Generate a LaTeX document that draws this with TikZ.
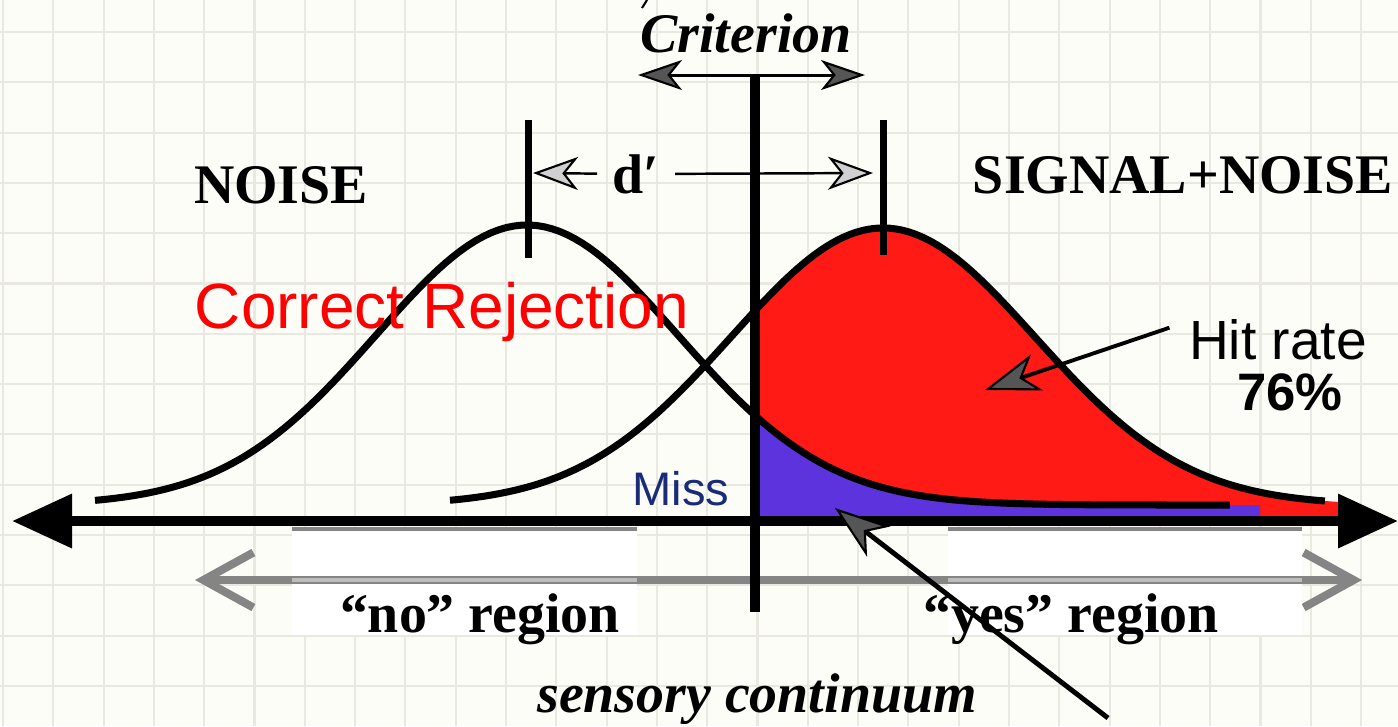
\documentclass[tikz,border=0pt]{standalone}
\usepackage{fontspec}
\setmainfont{Liberation Serif}
\setsansfont{Liberation Sans}
\usetikzlibrary{arrows.meta}
\begin{document}
\begin{tikzpicture}[
  every node/.style={inner sep=0pt, anchor=base},
  tnr/.style={font=\fontsize{15.9}{18}\selectfont\bfseries},
  tnri/.style={font=\fontsize{15.9}{18}\selectfont\bfseries\itshape},
  arial/.style={font=\sffamily\fontsize{#1}{#1}\selectfont},
  curve/.style={line width=2pt, line join=round},
  pointer/.style={line width=#1, -{Stealth[length=5.5mm, width=3.8mm, inset=1.6mm, fill=headgray, line width=0.6pt]}},
  declare function={noise(\x)=-5.05+2.80*exp(-((\x-5.27)^2)/4.56);
                    signal(\x)=-5.05+2.77*exp(-((\x-8.83)^2)/4.62);}
]
  % Signal detection: two distributions and a criterion
  \definecolor{paper}{HTML}{FDFDF8}
  \definecolor{gridline}{HTML}{E9E9E2}
  \definecolor{hit}{HTML}{FF1A16}
  \definecolor{falsealarm}{HTML}{5C33DD}
  \definecolor{missblue}{HTML}{182C78}
  \definecolor{regiongray}{HTML}{858585}
  \definecolor{headgray}{HTML}{555555}
  \definecolor{lightgray}{HTML}{D0D0D0}
  \definecolor{fadedgray}{HTML}{BDBDBD}
  \useasboundingbox (0,0) rectangle (13.98,-7.26);
  \fill[paper] (0,0) rectangle (13.98,-7.26);
  \foreach \gx in {0.03,0.533,...,13.98} \draw[gridline, line width=0.6pt] (\gx,0) -- (\gx,-7.26);
  \foreach \gy in {-0.32,-0.823,...,-7.26} \draw[gridline, line width=0.6pt] (0,\gy) -- (13.98,\gy);

  \fill[hit] (7.55,-5.16) -- plot[domain=7.55:13.4, samples=100] (\x,{signal(\x)}) -- (13.4,-5.16) -- cycle;
  \fill[falsealarm] (7.55,-5.16) -- plot[domain=7.55:12.6, samples=100] (\x,{noise(\x)}) -- (12.6,-5.16) -- cycle;
  \draw[curve] plot[domain=0.95:12.3, samples=150] (\x,{noise(\x)});
  \draw[curve] plot[domain=4.5:13.25, samples=150] (\x,{signal(\x)});

  % response regions
  \coordinate (regL) at (1.95,-5.80);
  \coordinate (regR) at (13.62,-5.80);
  \draw[regiongray, line width=2.3pt, {Straight Barb[length=5mm, width=5.5mm]}-{Straight Barb[length=5mm, width=5.5mm]}] (regL) -- (regR);
  \foreach \bx/\ex in {2.92/6.37, 9.48/13.02} {
    \fill[white] (\bx,-5.28) rectangle (\ex,-6.35);
    \draw[regiongray, line width=1.2pt] (\bx,-5.29) -- (\ex,-5.29);
    \draw[regiongray, line width=2.3pt] (\bx,-5.80) -- (\ex,-5.80);
    \draw[fadedgray, line width=1.2pt] (\bx,-5.80) -- (\ex,-5.80);
  }

  \coordinate (axL) at (0.12,-5.21);
  \coordinate (axR) at (13.98,-5.21);
  \draw[line width=2.85pt, {Triangle[length=6mm, width=5.2mm]}-{Triangle[length=6mm, width=5.2mm]}] (axL) -- (axR);

  % criterion
  \coordinate (critTop) at (7.55,-0.75);
  \coordinate (critBot) at (7.55,-6.12);
  \draw[line width=2.85pt] (critTop) -- (critBot);
  \coordinate (critL) at (6.38,-0.75);
  \coordinate (critR) at (8.65,-0.75);
  \draw[line width=0.85pt, {Stealth[length=4.4mm, width=3mm, inset=1.2mm, fill=headgray, line width=0.6pt]}-{Stealth[length=4.4mm, width=3mm, inset=1.2mm, fill=headgray, line width=0.6pt]}] (critL) -- (critR);
  \draw[line width=0.6pt] (6.47,0) -- (6.42,-0.08);

  % d-prime
  \draw[line width=2pt] (5.285,-1.2) -- (5.285,-2.58);
  \draw[line width=2pt] (8.83,-1.2) -- (8.83,-2.55);
  \node[tnr, anchor=west, inner xsep=1.5mm] (dlab) at (5.97,-1.74) {d′};
  \coordinate (dL) at (5.33,-1.73);
  \coordinate (dR) at (8.73,-1.73);
  \draw[line width=0.7pt, {Stealth[length=4.5mm, width=3.3mm, inset=1.3mm, fill=lightgray, line width=0.6pt]}-] (dL) -- (dlab);
  \draw[line width=0.7pt, -{Stealth[length=4.5mm, width=3.3mm, inset=1.3mm, fill=lightgray, line width=0.6pt]}] (dlab) -- (dR);

  \node[tnri] (crit) at (7.46,-0.52) {Criterion};
  \node[tnr] (noiselab) at (2.81,-2.03) {NOISE};
  \node[tnr] (signallab) at (11.83,-1.93) {SIGNAL+NOISE};
  \node[arial=18.2, text=red] (cr) at (4.42,-3.28) {Correct Rejection};
  \node[arial=15.7] (hitlab) at (12.78,-3.59) {Hit rate};
  \node[font=\sffamily\fontsize{15}{15}\selectfont\bfseries] (hitval) at (12.90,-4.10) {76\%};
  \node[arial=13.4, text=missblue] (miss) at (6.81,-5.05) {Miss};
  \node[tnr] (nolab) at (4.80,-6.32) {“no” region};
  \node[tnr] (yeslab) at (10.71,-6.32) {“yes” region};
  \node[tnri] (axislab) at (7.57,-7.12) {sensory continuum};

  % pointers
  \coordinate (hitTip) at (9.85,-3.90);
  \draw[pointer=1.1pt, shorten <=2mm] (hitlab.west) ++(0,0.18) -- (hitTip);
  \coordinate (missTail) at (11.08,-7.18);
  \coordinate (missTip) at (8.35,-5.08);
  \draw[pointer=1.4pt] (missTail) -- (missTip);
\end{tikzpicture}
\end{document}
